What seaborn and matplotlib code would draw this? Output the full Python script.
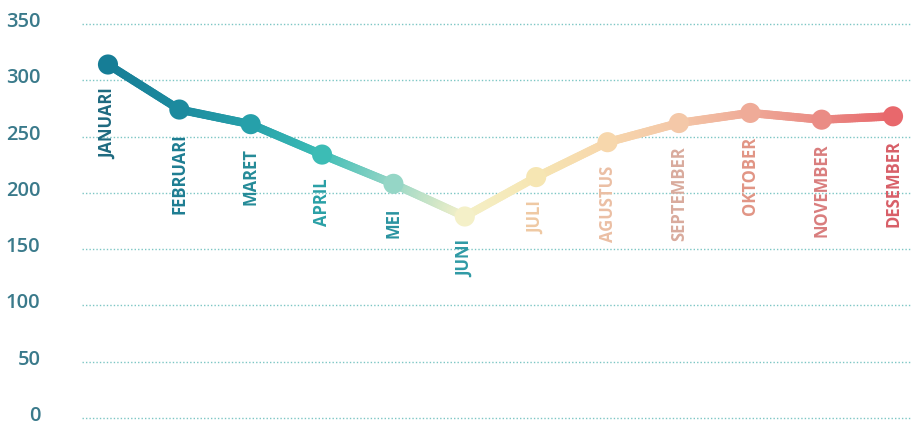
import numpy as np
import pandas as pd
import matplotlib
matplotlib.use("Agg")
import matplotlib.pyplot as plt
import seaborn as sns
from matplotlib.collections import LineCollection
from matplotlib.colors import to_rgb
from matplotlib.transforms import ScaledTranslation

months = ["JANUARI", "FEBRUARI", "MARET", "APRIL", "MEI", "JUNI",
          "JULI", "AGUSTUS", "SEPTEMBER", "OKTOBER", "NOVEMBER", "DESEMBER"]
values = [314, 274, 261, 234, 208, 179, 214, 245, 262, 271, 265, 268]
point_colors = ["#167d96", "#1c8a9e", "#26a0aa", "#3cbcb5", "#95d6c6", "#f4f0c8",
                "#f6e6b3", "#f7d7ac", "#f4c8a8", "#efab98", "#ea8c85", "#e8686c"]
label_colors = ["#1e6a80", "#1e7d92", "#258b98", "#2aa0a6", "#2a93a0", "#2f9aa5",
                "#efc9a3", "#ebbfa4", "#d9ab9d", "#e19585", "#d97d7d", "#d85f68"]
y_ticks = [0, 50, 100, 150, 200, 250, 300, 350]

sns.set_style("white")
plt.rcParams["font.family"] = ["Open Sans", "DejaVu Sans"]

df = pd.DataFrame({"idx": np.arange(len(months)), "month": months, "value": values})

fig = plt.figure(figsize=(9.11, 4.28), dpi=100)
ax = fig.add_axes([82 / 911, 0, (911 - 82) / 911, 1])

# gradient line: each segment blends the colours of its two end points
segs, cols = [], []
steps = 30
for i in range(len(df) - 1):
    x0, x1 = df.idx[i], df.idx[i + 1]
    y0, y1 = df.value[i], df.value[i + 1]
    c0, c1 = np.array(to_rgb(point_colors[i])), np.array(to_rgb(point_colors[i + 1]))
    for k in range(steps):
        t0, t1 = k / steps, (k + 1) / steps
        segs.append([(x0 + (x1 - x0) * t0, y0 + (y1 - y0) * t0),
                     (x0 + (x1 - x0) * t1, y0 + (y1 - y0) * t1)])
        cols.append(c0 + (c1 - c0) * (t0 + t1) / 2)
lc = LineCollection(segs, colors=cols, linewidths=6.0, capstyle="round", zorder=3)
ax.add_collection(lc)

sns.scatterplot(data=df, x="idx", y="value", hue="month", palette=point_colors,
                hue_order=months, s=210, linewidth=0, legend=False, zorder=4, ax=ax)

for i, row in df.iterrows():
    ax.annotate(row.month, (row.idx, row.value), xytext=(0, -17),
                textcoords="offset points", rotation=90, ha="center", va="top",
                fontsize=12, fontweight="bold", color=label_colors[i], zorder=5)

ax.set_xlim(-0.364, 11.252)
ax.set_ylim(-8.88, 371.3)
ax.set_yticks(y_ticks)
ax.set_yticklabels([str(v) for v in y_ticks], fontsize=14.5, fontweight="semibold",
                   color="#3a7a8b")
ax.tick_params(axis="y", length=0, pad=30)
# nudge the value labels up a little so the lowest one stays inside the figure
lift = ScaledTranslation(0, 0.045, fig.dpi_scale_trans)
for lab in ax.get_yticklabels():
    lab.set_transform(lab.get_transform() + lift)
ax.set_xticks([])
ax.set_xlabel("")
ax.set_ylabel("")
ax.grid(axis="y", color="#7cc6c4", linestyle=(0, (1, 1.5)), linewidth=1.0)
ax.set_axisbelow(True)
sns.despine(ax=ax, left=True, bottom=True)

fig.savefig("out.png", dpi=100)
